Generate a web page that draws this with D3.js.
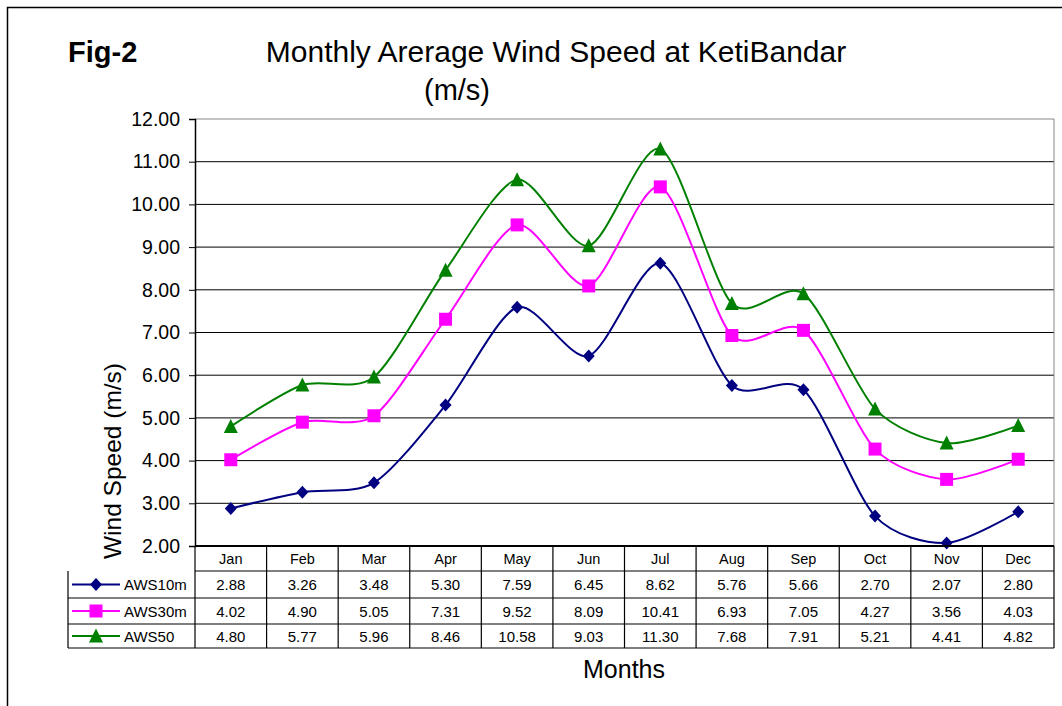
<!DOCTYPE html>
<html>
<head>
<meta charset="utf-8">
<script src="https://cdn.jsdelivr.net/npm/d3@7"></script>
<style>
  body { margin: 0; background: #fff; }
  text { font-family: Arial, "Liberation Sans", sans-serif; }
</style>
</head>
<body>
<svg id="chart" width="1062" height="706"></svg>
<script>
const months = ['Jan', 'Feb', 'Mar', 'Apr', 'May', 'Jun', 'Jul', 'Aug', 'Sep', 'Oct', 'Nov', 'Dec'];
const aws10 = [2.88, 3.26, 3.48, 5.30, 7.59, 6.45, 8.62, 5.76, 5.66, 2.70, 2.07, 2.80];
const aws30 = [4.02, 4.90, 5.05, 7.31, 9.52, 8.09, 10.41, 6.93, 7.05, 4.27, 3.56, 4.03];
const aws50 = [4.80, 5.77, 5.96, 8.46, 10.58, 9.03, 11.30, 7.68, 7.91, 5.21, 4.41, 4.82];
const yTicks = [2, 3, 4, 5, 6, 7, 8, 9, 10, 11, 12];

const series = [
    { name: 'AWS10m', values: aws10, color: '#000080', marker: 'diamond' },
    { name: 'AWS30m', values: aws30, color: '#FF00FF', marker: 'square' },
    { name: 'AWS50', values: aws50, color: '#008000', marker: 'triangle' }
];

const svg = d3.select('#chart');
const plotLeft = 195, plotRight = 1054, plotTop = 119, plotBottom = 546;
const rowH = [25, 27, 26, 24];
const legendLeft = 68;

// outer frame
svg.append('path')
    .attr('d', 'M7.5,706 L7.5,7.5 L1062,7.5')
    .attr('fill', 'none')
    .attr('stroke', '#000')
    .attr('stroke-width', 1.5);

const x = d3.scaleBand().domain(months).range([plotLeft, plotRight]);
const y = d3.scaleLinear().domain([2, 12]).range([plotBottom, plotTop]);

// gridlines
svg.append('g')
    .selectAll('line')
    .data(yTicks.filter(d => d > 2))
    .join('line')
    .attr('x1', plotLeft).attr('x2', plotRight)
    .attr('y1', d => y(d)).attr('y2', d => y(d))
    .attr('stroke', d => d === 12 ? '#888' : '#000')
    .attr('stroke-width', 1);

// right border of plot
svg.append('line')
    .attr('x1', plotRight).attr('x2', plotRight).attr('y1', plotTop).attr('y2', plotBottom)
    .attr('stroke', '#888');

// y axis
const yAxis = svg.append('g')
    .attr('transform', `translate(${plotLeft},0)`)
    .call(d3.axisLeft(y).tickValues(yTicks).tickFormat(d3.format('.2f')).tickSize(6).tickPadding(9));
yAxis.select('.domain').attr('stroke', '#000').attr('stroke-width', 1.5);
yAxis.selectAll('.tick line').attr('stroke', '#000');
yAxis.selectAll('text').attr('font-size', 19.5).attr('fill', '#000')
    .attr('font-family', 'Arial, "Liberation Sans", sans-serif');

// lines
const line = d3.line()
    .x((d, i) => x(months[i]) + x.bandwidth() / 2)
    .y(d => y(d))
    .curve(d3.curveCardinal.tension(0.2));

series.forEach(s => {
    svg.append('path')
        .datum(s.values)
        .attr('fill', 'none')
        .attr('stroke', s.color)
        .attr('stroke-width', 2)
        .attr('d', line);
});

function markerPath(type, cx, cy, size) {
    const h = size / 2;
    if (type === 'diamond') return `M${cx},${cy - h - 0.5}L${cx + h},${cy}L${cx},${cy + h + 0.5}L${cx - h},${cy}Z`;
    if (type === 'square') return `M${cx - h},${cy - h}h${size}v${size}h${-size}Z`;
    return `M${cx},${cy - h - 1}L${cx + h + 0.5},${cy + h}L${cx - h - 0.5},${cy + h}Z`;
}

series.forEach(s => {
    const size = s.marker === 'diamond' ? 12 : 13;
    svg.append('g')
        .selectAll('path')
        .data(s.values)
        .join('path')
        .attr('d', (d, i) => markerPath(s.marker, x(months[i]) + x.bandwidth() / 2, y(d), size))
        .attr('fill', s.color);
});

// plot bottom line
svg.append('line')
    .attr('x1', plotLeft).attr('x2', plotRight).attr('y1', plotBottom).attr('y2', plotBottom)
    .attr('stroke', '#000').attr('stroke-width', 2);

// data table
const rowY = [plotBottom];
rowH.forEach((h, i) => rowY.push(rowY[i] + h));
const table = svg.append('g');

// horizontal lines
rowY.slice(1).forEach((yy, i) => {
    table.append('line')
        .attr('x1', i === 0 ? plotLeft : legendLeft).attr('x2', plotRight)
        .attr('y1', yy).attr('y2', yy)
        .attr('stroke', '#000').attr('stroke-width', 1.2);
});
// vertical lines
months.forEach(m => {
    table.append('line')
        .attr('x1', x(m)).attr('x2', x(m))
        .attr('y1', plotBottom).attr('y2', rowY[4])
        .attr('stroke', '#000').attr('stroke-width', 1.2);
});
table.append('line')
    .attr('x1', plotRight).attr('x2', plotRight).attr('y1', plotBottom).attr('y2', rowY[4])
    .attr('stroke', '#000').attr('stroke-width', 1.2);
table.append('line')
    .attr('x1', legendLeft).attr('x2', legendLeft).attr('y1', rowY[1]).attr('y2', rowY[4])
    .attr('stroke', '#000').attr('stroke-width', 1.2);

// month headers
table.selectAll('text.month')
    .data(months)
    .join('text')
    .attr('class', 'month')
    .attr('x', d => x(d) + x.bandwidth() / 2)
    .attr('y', (rowY[0] + rowY[1]) / 2 + 5)
    .attr('text-anchor', 'middle')
    .attr('font-size', 14.5)
    .text(d => d);

series.forEach((s, r) => {
    const cy = (rowY[r + 1] + rowY[r + 2]) / 2;
    table.append('line')
        .attr('x1', legendLeft + 4).attr('x2', legendLeft + 52)
        .attr('y1', cy).attr('y2', cy)
        .attr('stroke', s.color).attr('stroke-width', 2);
    table.append('path')
        .attr('d', markerPath(s.marker, legendLeft + 28, cy, s.marker === 'diamond' ? 12 : 13))
        .attr('fill', s.color);
    table.append('text')
        .attr('x', legendLeft + 56)
        .attr('y', cy + 5.5)
        .attr('font-size', 15)
        .text(s.name);
    table.selectAll(null)
        .data(s.values)
        .join('text')
        .attr('x', (d, i) => x(months[i]) + x.bandwidth() / 2)
        .attr('y', cy + 5.5)
        .attr('text-anchor', 'middle')
        .attr('font-size', 15)
        .text(d => d.toFixed(2));
});

// titles
svg.append('text')
    .attr('x', 68).attr('y', 62)
    .attr('font-size', 29).attr('font-weight', 'bold')
    .text('Fig-2');
svg.append('text')
    .attr('x', 556).attr('y', 62)
    .attr('text-anchor', 'middle')
    .attr('font-size', 30)
    .text('Monthly Arerage Wind Speed at KetiBandar');
svg.append('text')
    .attr('x', 457).attr('y', 100)
    .attr('text-anchor', 'middle')
    .attr('font-size', 29)
    .text('(m/s)');

svg.append('text')
    .attr('transform', 'translate(121,461) rotate(-90)')
    .attr('text-anchor', 'middle')
    .attr('font-size', 24.5)
    .text('Wind Speed (m/s)');
svg.append('text')
    .attr('x', 624).attr('y', 678)
    .attr('text-anchor', 'middle')
    .attr('font-size', 25)
    .text('Months');
</script>
</body>
</html>
